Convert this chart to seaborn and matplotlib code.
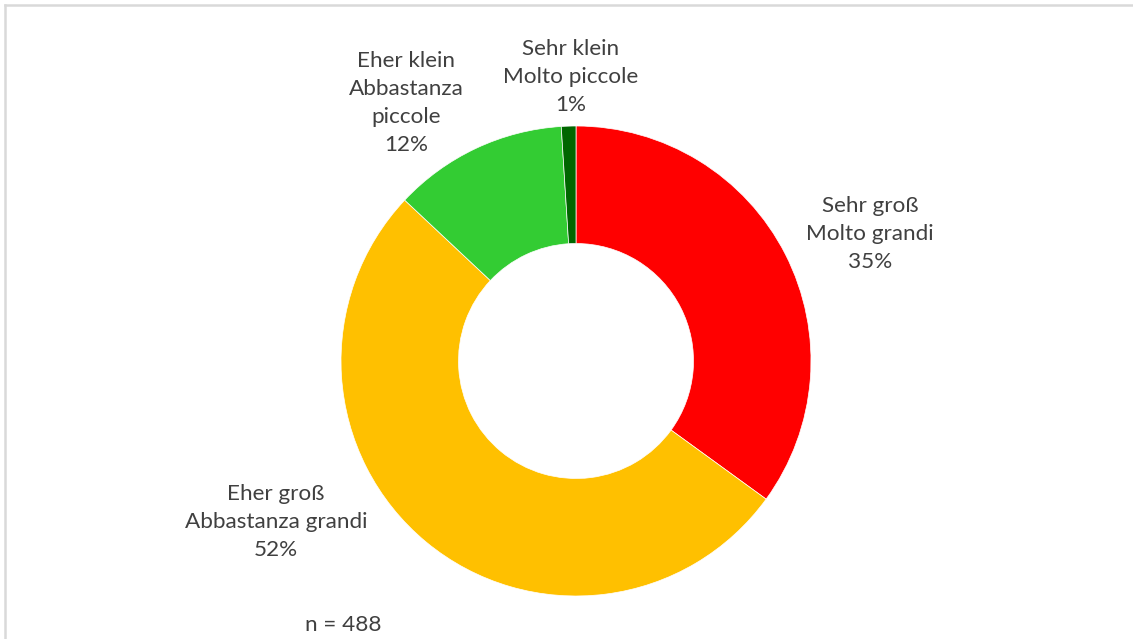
import matplotlib
matplotlib.use("Agg")
import matplotlib.pyplot as plt
import seaborn as sns

# Answer categories (German / Italian) and shares in percent
labels_de = ["Sehr groß", "Eher groß", "Eher klein", "Sehr klein"]
labels_it = ["Molto grandi", "Abbastanza grandi", "Abbastanza\npiccole", "Molto piccole"]
shares = [35, 52, 12, 1]
colors = ["#FF0000", "#FFC000", "#33CC33", "#006600"]
n_total = 488

sns.set_theme(style="white")
plt.rcParams["font.family"] = ["Lato", "DejaVu Sans"]

W, H, DPI = 1133, 639, 100
fig = plt.figure(figsize=(W / DPI, H / DPI), dpi=DPI, frameon=False)

# background panel: only its top and left border are visible
bg = fig.add_axes([5.5 / W, 0.0, 1 - 5.5 / W, 1 - 4.5 / H])
bg.set_xticks([])
bg.set_yticks([])
bg.set_facecolor("white")
for side in ("right", "bottom"):
    bg.spines[side].set_visible(False)
for side in ("top", "left"):
    bg.spines[side].set_color("#D9D9D9")
    bg.spines[side].set_linewidth(1.8)

cx, cy, R = 576, 361, 235
ax = fig.add_axes([(cx - R) / W, (H - cy - R) / H, 2 * R / W, 2 * R / H])
ax.pie(shares, colors=colors, startangle=90, counterclock=False, radius=1.0,
       wedgeprops=dict(width=0.5, edgecolor="white", linewidth=0.5))
ax.set_xlim(-1, 1)
ax.set_ylim(-1, 1)
ax.set_aspect("equal")
ax.axis("off")

# label anchor points (pixel centres of the text blocks)
label_pos = [(870, 234), (276, 522), (406, 103), (571, 77)]
txt_color = "#404040"
for de, it, v, (px, py) in zip(labels_de, labels_it, shares, label_pos):
    fig.text(px / W, 1 - py / H, f"{de}\n{it}\n{v}%", ha="center", va="center",
             fontsize=16.2, color=txt_color, linespacing=1.5)

fig.text(343 / W, 1 - 625 / H, f"n = {n_total}", ha="center", va="center",
         fontsize=16.2, color=txt_color)

fig.savefig("out.png", dpi=DPI, facecolor="white", edgecolor="none")
